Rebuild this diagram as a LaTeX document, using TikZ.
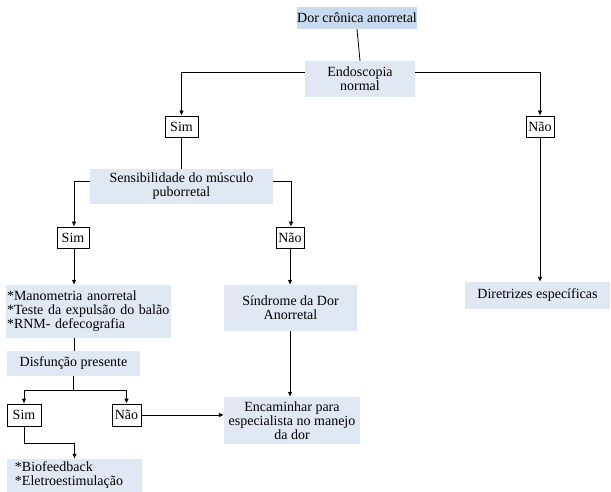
\documentclass[tikz,border=0pt]{standalone}
\usepackage{fontspec}
\setmainfont{Liberation Serif}
\usetikzlibrary{arrows.meta,calc}
\definecolor{topblue}{HTML}{C8DAEE}
\definecolor{lightblue}{HTML}{E0E8F4}
\begin{document}
\begin{tikzpicture}[x=1pt,y=-1pt,
  every node/.style={font=\fontsize{14}{14}\selectfont, inner sep=0pt},
  bluebox/.style={fill=lightblue, align=center},
  answer/.style={draw=black, line width=0.8pt, fill=white, minimum height=21pt, align=center},
  conn/.style={line width=0.8pt},
  arr/.style={line width=0.8pt, -{Latex[length=5pt,width=4.5pt]}}]
\useasboundingbox (0,0) rectangle (611,492);
\node[bluebox, fill=topblue, minimum width=120pt, minimum height=22pt] (top) at (357,18) {Dor crônica anorretal};
\node[bluebox, minimum width=110pt, minimum height=36pt] (endo) at (360,79) {Endoscopia\\normal};
\node[answer, minimum width=33pt] (sim1) at (181.5,126.5) {Sim};
\node[answer, minimum width=28pt] (nao1) at (540,126.5) {Não};
\node[bluebox, minimum width=183pt, minimum height=35pt] (sens) at (181.5,186.5) {Sensibilidade do músculo\\puborretal};
\node[answer, minimum width=32pt] (sim2) at (73,237.5) {Sim};
\node[answer, minimum width=28pt] (nao2) at (290,237.5) {Não};
\node[bluebox, minimum width=145pt, minimum height=27pt] (dir) at (537.5,295.5) {Diretrizes específicas};
\node[bluebox, align=left, text width=163pt, inner xsep=1pt, minimum height=53pt] (mano) at (88.5,311.5) {*Manometria anorretal\\{*}Teste da expulsão do balão\\{*}RNM- defecografia};
\node[bluebox, minimum width=133pt, minimum height=46pt] (sind) at (290.5,308) {Síndrome da Dor\\Anorretal};
\node[bluebox, minimum width=133pt, minimum height=25pt] (disf) at (73.5,363.5) {Disfunção presente};
\node[answer, minimum width=34pt, minimum height=22pt] (sim3) at (24,415) {Sim};
\node[answer, minimum width=29pt, minimum height=22pt] (nao3) at (126.5,415) {Não};
\node[bluebox, minimum width=136pt, minimum height=47pt] (enc) at (292,420.5) {Encaminhar para\\especialista no manejo\\da dor};
\node[bluebox, align=left, text width=119pt, inner xsep=8pt, minimum height=33pt] (bio) at (74.5,475.5) {*Biofeedback\\{*}Eletroestimulação};
% connectors
\draw[conn] (top.south) -- (endo.north);
\draw[arr] ([yshift=7pt]endo.west) -| (sim1.north);
\draw[arr] ([yshift=7pt]endo.east) -| (nao1.north);
\draw[conn] (sim1.south) -- (sens.north);
\draw[arr] (nao1.south) -- (nao1.south |- dir.north);
\draw[arr] ([yshift=5.5pt]sens.west) -| ([xshift=1pt]sim2.north);
\draw[arr] ([yshift=5.5pt]sens.east) -| ([xshift=1pt]nao2.north);
\draw[arr] ([xshift=1pt]sim2.south) -- ([xshift=1pt]sim2.south |- mano.north);
\draw[arr] (nao2.south) -- (nao2.south |- sind.north);
\draw[conn] ([xshift=1pt]sim2.south |- mano.south) -- ([xshift=1pt]sim2.south |- disf.north);
\draw[conn] (disf.south) -- ++(0,14) coordinate (split);
\draw[arr] (split) -| (sim3.north);
\draw[arr] (split) -| (nao3.north);
\draw[arr] (nao3.east) -- (nao3.east -| enc.west);
\draw[arr] (nao2.south |- sind.south) -- (nao2.south |- enc.north);
\draw[arr] (sim3.south) -- ++(0,17) -| (bio.north);
\end{tikzpicture}
\end{document}
